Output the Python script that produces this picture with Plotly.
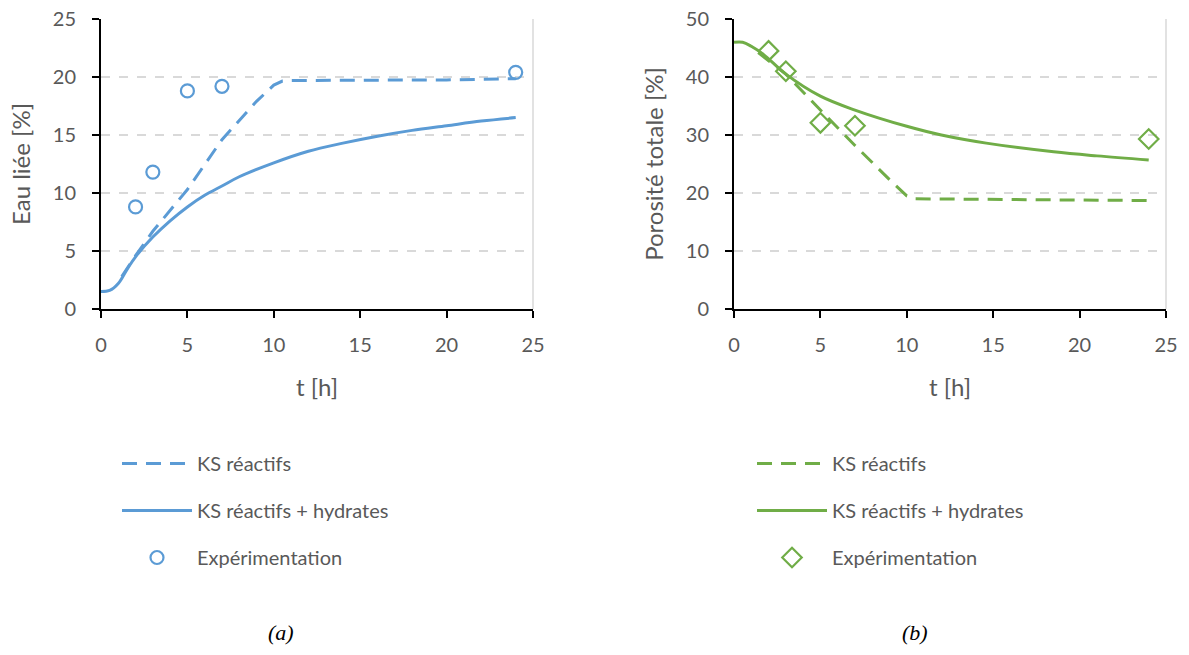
import plotly.graph_objects as go

# ---- data ----
t_dash_a = [1.2, 2, 3, 5, 7, 9, 10, 10.5, 11, 15, 20, 24]
y_dash_a = [2.8, 4.6, 6.7, 10.3, 14.6, 17.9, 19.3, 19.65, 19.7, 19.7, 19.75, 19.85]
t_sol_a = [0, 0.5, 1, 1.5, 2, 3, 4, 5, 6, 7, 8, 10, 12, 14, 16, 18, 20, 22, 24]
y_sol_a = [1.5, 1.6, 2.2, 3.4, 4.5, 6.2, 7.6, 8.8, 9.8, 10.6, 11.4, 12.6, 13.6, 14.3, 14.9, 15.4, 15.8, 16.2, 16.5]
t_exp_a = [2, 3, 5, 7, 24]
y_exp_a = [8.8, 11.8, 18.8, 19.2, 20.4]

t_dash_b = [1.4, 3, 5, 7, 9, 10, 10.5, 15, 20, 24]
y_dash_b = [44.2, 40.5, 34.3, 28.2, 22.3, 19.5, 19.0, 18.9, 18.8, 18.7]
t_sol_b = [0, 0.5, 1, 1.7, 3, 5, 7, 10, 12, 14.6, 18.5, 21, 24]
y_sol_b = [46.0, 46.0, 45.3, 43.9, 40.5, 36.7, 34.3, 31.5, 30.0, 28.6, 27.1, 26.4, 25.7]
t_exp_b = [2, 3, 5, 7, 24]
y_exp_b = [44.5, 41.0, 32.1, 31.6, 29.3]

names = ["KS réactifs", "KS réactifs + hydrates", "Expérimentation"]
BLUE = "#5B9BD5"
GREEN = "#70AD47"
GRAY = "#595959"
FONT = "Lato"

fig = go.Figure()

def add_series(color, td, yd, ts, ys, te, ye, xa, ya, leg, sym, msize):
    fig.add_trace(go.Scatter(x=td, y=yd, mode="lines", name=names[0], xaxis=xa, yaxis=ya,
                             line=dict(color=color, width=3, dash="15px,9px"), legend=leg, legendgroup=leg + "1"))
    fig.add_trace(go.Scatter(x=ts, y=ys, mode="lines", name=names[1], xaxis=xa, yaxis=ya,
                             line=dict(color=color, width=3, shape="spline"), legend=leg, legendgroup=leg + "2"))
    fig.add_trace(go.Scatter(x=te, y=ye, mode="markers", name=names[2], xaxis=xa, yaxis=ya,
                             marker=dict(symbol=sym, size=msize, color=color, line=dict(width=2.2)),
                             legend=leg, legendgroup=leg + "3"))

add_series(BLUE, t_dash_a, y_dash_a, t_sol_a, y_sol_a, t_exp_a, y_exp_a, "x", "y", "legend", "circle-open", 13)
add_series(GREEN, t_dash_b, y_dash_b, t_sol_b, y_sol_b, t_exp_b, y_exp_b, "x2", "y2", "legend2", "diamond-open", 15)

ydom = [1 - 309 / 655, 1 - 19 / 655]
xdom1 = [101 / 1189, 533 / 1189]
xdom2 = [734 / 1189, 1166 / 1189]

xcommon = dict(range=[0, 25], dtick=5, showline=True, linecolor="black", linewidth=2, automargin=False,
               ticks="outside", ticklen=7, tickcolor="black", tickwidth=2, showgrid=False, zeroline=False,
               ticklabelstandoff=10,
               tickfont=dict(family=FONT, size=20, color=GRAY),
               title=dict(text="t [h]", font=dict(family=FONT, size=24, color=GRAY), standoff=24))
ycommon = dict(showline=True, linecolor="black", linewidth=2, ticks="outside", ticklen=7, automargin=False,
               tickcolor="black", tickwidth=2, showgrid=True, gridcolor="#D9D9D9", griddash="dash",
               gridwidth=1.5, zeroline=False, ticklabelstandoff=12,
               tickfont=dict(family=FONT, size=20, color=GRAY))

legcommon = dict(xanchor="left", yanchor="top", traceorder="grouped", tracegroupgap=18, itemwidth=70,
                 bgcolor="rgba(0,0,0,0)", font=dict(family=FONT, size=20, color=GRAY))

fig.update_layout(
    width=1189, height=655, margin=dict(l=0, r=0, t=0, b=0, autoexpand=False),
    plot_bgcolor="white", paper_bgcolor="white",
    xaxis=dict(domain=xdom1, anchor="y", **xcommon),
    yaxis=dict(domain=ydom, anchor="x", range=[0, 25], dtick=5,
               title=dict(text="Eau liée [%]", font=dict(family=FONT, size=24, color=GRAY), standoff=15),
               **ycommon),
    xaxis2=dict(domain=xdom2, anchor="y2", **xcommon),
    yaxis2=dict(domain=ydom, anchor="x2", range=[0, 50], dtick=10,
                title=dict(text="Porosité totale [%]", font=dict(family=FONT, size=24, color=GRAY), standoff=15),
                **ycommon),
    legend=dict(x=117 / 1189, y=1 - 444 / 655, **legcommon),
    legend2=dict(x=752 / 1189, y=1 - 444 / 655, **legcommon),
    showlegend=True,
)

# right frame in light gray
for xd in (xdom1, xdom2):
    fig.add_shape(type="line", xref="paper", yref="paper", x0=xd[1], x1=xd[1], y0=ydom[0], y1=ydom[1],
                  line=dict(color="#D9D9D9", width=1.5))

for label, xc in (("<i>(a)</i>", 281 / 1189), ("<i>(b)</i>", 915 / 1189)):
    fig.add_annotation(text=label, xref="paper", yref="paper", x=xc, y=1 - 632 / 655, showarrow=False,
                       font=dict(family="Liberation Serif", size=22, color="black"), xanchor="center",
                       yanchor="middle")

fig.write_html("out.html", post_script="document.body.style.margin='0';",
               config={"displayModeBar": False})
